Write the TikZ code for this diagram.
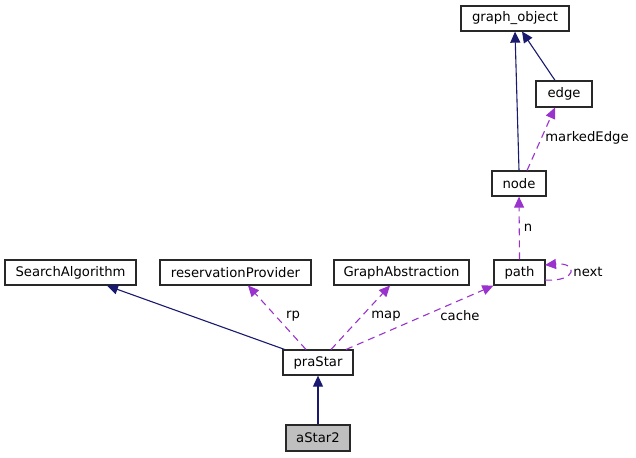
\documentclass[tikz,border=0pt]{standalone}
\usepackage{fontspec}
\setmainfont{DejaVu Sans}
\usetikzlibrary{arrows.meta}
\definecolor{navy}{HTML}{191970}
\definecolor{orchid}{HTML}{9A32CD}
\begin{document}
\begin{tikzpicture}[x=1pt,y=-1pt,
  box/.style={draw={rgb,255:red,40;green,40;blue,40}, line width=1.3pt, fill=white, inner sep=0pt, font=\fontsize{13.2}{15}\selectfont, anchor=center},
  inh/.style={draw=navy, line width=1.1pt, -{Triangle[length=11pt,width=10pt]}},
  use/.style={draw=orchid, line width=1.1pt, dash pattern=on 7pt off 5pt, -{Triangle[length=11pt,width=10pt]}},
  lbl/.style={font=\fontsize{13.2}{15}\selectfont, inner sep=1pt}]
\useasboundingbox (0,0) rectangle (636,457);
\node[box, minimum width=108pt, minimum height=25pt] (go) at (515,18.5) {graph\_object};
\node[box, minimum width=56pt, minimum height=26pt] (edge) at (564,94) {edge};
\node[box, minimum width=54pt, minimum height=25pt] (node) at (519,183.5) {node};
\node[box, minimum width=51pt, minimum height=25pt] (path) at (519.5,272.5) {path};
\node[box, minimum width=131pt, minimum height=25pt] (sa) at (70.5,272.5) {SearchAlgorithm};
\node[box, minimum width=151pt, minimum height=25pt] (rp) at (235.5,272.5) {reservationProvider};
\node[box, minimum width=135pt, minimum height=25pt] (ga) at (401.5,272.5) {GraphAbstraction};
\node[box, minimum width=70pt, minimum height=25pt] (pra) at (318,362.5) {praStar};
\node[box, minimum width=64pt, minimum height=26pt, fill={rgb,255:red,191;green,191;blue,191}] (a2) at (318,438) {aStar2};

\draw[inh] (a2.north) -- (pra.south);
\draw[inh] (pra.north west) ++(2,0) coordinate (p1) (p1) -- (sa.south -| 107,0);
\draw[inh] (node.north) -- (go.south);
\draw[inh] (edge.north) ++(-9,0) coordinate (e1) (e1) -- (522,31.5);

\coordinate (prarp) at (306,349.5);
\coordinate (praga) at (331,349.5);
\coordinate (prapa) at (346,349.5);
\draw[use] (prarp) -- (248,285.5);
\draw[use] (praga) -- (390,285.5);
\draw[use] (prapa) -- (path.south west);
\draw[use] (path.north) -- (node.south);
\draw[use] (527,170.5) -- (555,107.5);
\draw[use] (545,280) .. controls (578,282) and (578,262) .. (545,265);

\node[lbl] at (293,316) {rp};
\node[lbl] at (386,316) {map};
\node[lbl] at (460,316) {cache};
\node[lbl] at (528,228) {n};
\node[lbl] at (588,272) {next};
\node[lbl] at (587,138) {markedEdge};
\end{tikzpicture}
\end{document}
